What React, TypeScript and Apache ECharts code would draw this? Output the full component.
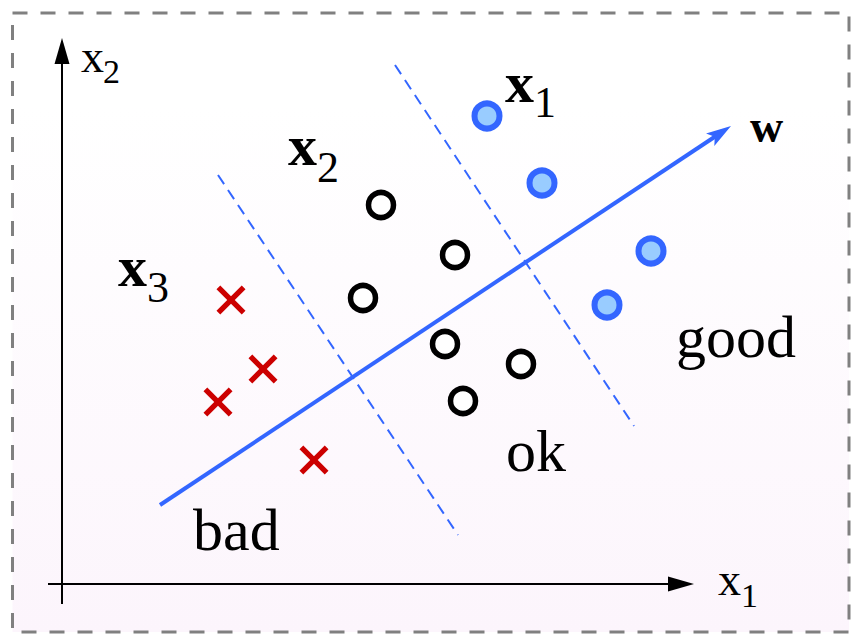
import React, { useEffect, useRef } from "react";
import * as echarts from "echarts";

// Plot units: one unit = 10 px, origin where the x1 and x2 axes cross.
const X_RANGE = [-6.2, 79.0];
const Y_RANGE = [-5.2, 58.4];

// Samples in the (x1, x2) feature plane, grouped by rating.
const badPoints = [
  [16.9, 28.4],
  [20.1, 21.5],
  [15.6, 18.2],
  [25.2, 12.4],
];
const okPoints = [
  [31.9, 37.9],
  [39.3, 32.9],
  [30.1, 28.6],
  [38.3, 24.0],
  [45.9, 22.0],
  [40.1, 18.3],
];
const goodPoints = [
  [42.5, 46.8],
  [48.0, 40.1],
  [58.9, 33.3],
  [54.5, 27.9],
];

// Decision thresholds, perpendicular to w.
const thresholds = [
  [[15.6, 40.9], [39.6, 4.9]],
  [[33.3, 51.9], [57.2, 15.8]],
];

// Weight vector and the two coordinate axes (start, tip).
const weightVector = [[[9.8, 7.9], [66.9, 45.8]]];
const axes = [
  [[-1.4, 0], [63.2, 0]],
  [[0, -2.0], [0, 54.6]],
];

// Annotations: text, left x, baseline y, font size, bold.
const labels: [string, number, number, number, boolean][] = [
  ["x", 1.9, 51.2, 46, false],
  ["2", 4.1, 50.1, 34, false],
  ["x", 65.6, -1.1, 46, false],
  ["1", 67.9, -2.3, 34, false],
  ["x", 44.3, 48.2, 58, true],
  ["1", 47.2, 46.7, 44, false],
  ["x", 22.6, 41.9, 58, true],
  ["2", 25.5, 40.2, 44, false],
  ["x", 5.6, 29.8, 58, true],
  ["3", 8.5, 28.2, 44, false],
  ["w", 68.8, 44.2, 46, true],
  ["good", 61.4, 22.7, 60, false],
  ["ok", 44.4, 11.3, 60, false],
  ["bad", 13.1, 3.4, 60, false],
];

const BLUE = "#3366ff";
const SERIF = "'Liberation Serif', 'Times New Roman', serif";
const CROSS =
  "path://M0,1.3L1.3,0L5,3.7L8.7,0L10,1.3L6.3,5L10,8.7L8.7,10L5,6.3L1.3,10L0,8.7L3.7,5Z";

function arrowSeries(
  segs: number[][][],
  color: string,
  width: number,
  headLen: number,
  headHalf: number,
  notch: number
) {
  return {
    type: "custom",
    coordinateSystem: "cartesian2d",
    silent: true,
    z: 3,
    data: segs.map(([a, b]) => [a[0], a[1], b[0], b[1]]),
    encode: { x: [0, 2], y: [1, 3] },
    renderItem: (_params: any, api: any) => {
      const p0 = api.coord([api.value(0), api.value(1)]);
      const p1 = api.coord([api.value(2), api.value(3)]);
      const dx = p1[0] - p0[0];
      const dy = p1[1] - p0[1];
      const len = Math.hypot(dx, dy);
      const ux = dx / len;
      const uy = dy / len;
      const nx = -uy;
      const ny = ux;
      const bx = p1[0] - ux * headLen;
      const by = p1[1] - uy * headLen;
      const inner = headLen * (1 - notch);
      const cx = p1[0] - ux * inner;
      const cy = p1[1] - uy * inner;
      return {
        type: "group",
        children: [
          {
            type: "line",
            shape: { x1: p0[0], y1: p0[1], x2: cx + ux, y2: cy + uy },
            style: { stroke: color, lineWidth: width },
          },
          {
            type: "polygon",
            shape: {
              points: [
                [p1[0], p1[1]],
                [bx + nx * headHalf, by + ny * headHalf],
                [cx, cy],
                [bx - nx * headHalf, by - ny * headHalf],
              ],
            },
            style: { fill: color },
          },
        ],
      };
    },
  };
}

export default function App() {
  const ref = useRef<HTMLDivElement>(null);

  useEffect(() => {
    if (!ref.current) return;
    const chart = echarts.init(ref.current, undefined, { renderer: "svg" });

    const option: any = {
      animation: false,
      backgroundColor: "#ffffff",
      grid: { left: 0, right: 0, top: 0, bottom: 0, containLabel: false },
      xAxis: { type: "value", min: X_RANGE[0], max: X_RANGE[1], show: false },
      yAxis: { type: "value", min: Y_RANGE[0], max: Y_RANGE[1], show: false },
      graphic: [
        {
          type: "rect",
          z: -10,
          silent: true,
          shape: { x: 12.5, y: 13, width: 836.5, height: 619 },
          style: {
            fill: new echarts.graphic.LinearGradient(0, 0, 0, 1, [
              { offset: 0, color: "#ffffff" },
              { offset: 0.15, color: "#ffffff" },
              { offset: 1, color: "#fcf5fc" },
            ]),
            stroke: "#808080",
            lineWidth: 3,
            lineDash: [15, 13],
          },
        },
      ],
      series: [
        ...thresholds.map((seg) => ({
          type: "line",
          silent: true,
          z: 2,
          data: seg,
          showSymbol: false,
          symbol: "none",
          lineStyle: { color: BLUE, width: 2, type: [11, 7], opacity: 1 },
        })),
        arrowSeries(axes, "#000000", 2, 26, 7.5, 0),
        arrowSeries(weightVector, BLUE, 4, 25, 7.5, 0.22),
        {
          type: "scatter",
          silent: true,
          z: 4,
          data: badPoints,
          symbol: CROSS,
          symbolSize: 29,
          itemStyle: { color: "#cc0000", opacity: 1 },
        },
        {
          type: "scatter",
          silent: true,
          z: 4,
          data: okPoints,
          symbol: "circle",
          symbolSize: 25,
          itemStyle: {
            color: "#ffffff",
            borderColor: "#000000",
            borderWidth: 5.5,
            opacity: 1,
          },
        },
        {
          type: "scatter",
          silent: true,
          z: 4,
          data: goodPoints,
          symbol: "circle",
          symbolSize: 25,
          itemStyle: {
            color: "#99ccff",
            borderColor: BLUE,
            borderWidth: 6,
            opacity: 1,
          },
        },
        {
          type: "scatter",
          silent: true,
          z: 5,
          symbolSize: 0,
          itemStyle: { opacity: 1 },
          data: labels.map(([text, x, y, size, bold]) => ({
            value: [x, y],
            label: {
              show: true,
              position: "inside",
              formatter: text,
              align: "left",
              verticalAlign: "middle",
              offset: [0, -0.3375 * size],
              fontFamily: SERIF,
              fontSize: size,
              fontWeight: bold ? "bold" : "normal",
              color: "#000000",
              opacity: 1,
            },
          })),
        },
      ],
    };

    chart.setOption(option);
    return () => chart.dispose();
  }, []);

  return (
    <div
      ref={ref}
      style={{ position: "fixed", left: 0, top: 0, width: 852, height: 636 }}
    />
  );
}
